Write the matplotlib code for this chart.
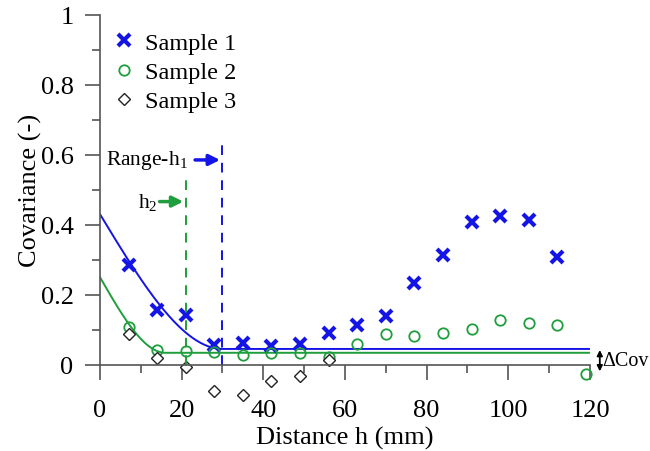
import numpy as np
import matplotlib.pyplot as plt
from matplotlib.ticker import MultipleLocator, FixedLocator

plt.rcParams['font.family'] = ['Liberation Serif', 'DejaVu Serif']
plt.rcParams['mathtext.fontset'] = 'custom'
plt.rcParams['mathtext.rm'] = 'Liberation Serif'
plt.rcParams['mathtext.it'] = 'Liberation Serif:italic'

# Data
lags = [7, 14, 21, 28, 35, 42, 49, 56, 63, 70, 77, 84, 91, 98, 105, 112, 119]
sample1 = [0.285, 0.156, 0.143, 0.055, 0.062, 0.052, 0.058, 0.091, 0.112, 0.138,
           0.232, 0.313, 0.407, 0.425, 0.413, 0.309]
sample2 = [0.108, 0.041, 0.038, 0.036, 0.029, 0.032, 0.033, 0.022, 0.060, 0.089,
           0.081, 0.091, 0.103, 0.127, 0.120, 0.113, -0.026]
sample3 = [0.089, 0.020, -0.007, -0.076, -0.086, -0.048, -0.031, 0.012]

# spherical model fits: value at h=0, plateau, range
blue_fit = (0.43, 0.045, 30.0)
green_fit = (0.25, 0.034, 16.0)
range_h1 = 30
h2 = 21

BLUE = '#1414e6'
GREEN = '#1e9e3c'


def spherical(h, c_at0, plateau, a):
    r = np.clip(h / a, 0, 1)
    return plateau + (c_at0 - plateau) * (1 - 1.5 * r + 0.5 * r ** 3)


fig = plt.figure(figsize=(6.5, 4.52), dpi=100)
ax = fig.add_axes([0.1538, 0.1135, 0.7539, 0.8518])

hh = np.linspace(0, 120, 400)
ax.plot(hh, spherical(hh, *blue_fit), color=BLUE, lw=1.4)
ax.plot(hh, spherical(hh, *green_fit), color=GREEN, lw=1.4)

ax.plot(lags[:len(sample1)], sample1, 'x', color=BLUE, ms=8.5, mew=3, label='Sample 1', clip_on=False)
ax.plot(lags[:len(sample2)], sample2, 'o', color=GREEN, mfc='none', ms=7.5, mew=1.3,
        label='Sample 2', clip_on=False)
ax.plot(lags[:len(sample3)], sample3, 'D', color='#222222', mfc='white', ms=6, mew=1,
        label='Sample 3', clip_on=False)

# range markers
ax.plot([h2, h2], [0, 0.533], '--', color=GREEN, lw=1.4, dashes=(5, 4))
ax.plot([range_h1, range_h1], [0, 0.628], '--', color=BLUE, lw=1.4, dashes=(5, 4))
arrow = dict(arrowstyle='-|>', lw=2.5, mutation_scale=16, shrinkA=0, shrinkB=0)
ax.annotate('', xy=(range_h1 - 0.6, 0.585), xytext=(23.3, 0.585),
            arrowprops=dict(arrow, color=BLUE))
ax.annotate('', xy=(h2 - 0.6, 0.466), xytext=(14.6, 0.466),
            arrowprops=dict(arrow, color=GREEN))
ax.text(21.6, 0.585, r'Range-$\mathrm{h}_1$', ha='right', va='center', fontsize=15.5)
ax.text(14.0, 0.466, r'$\mathrm{h}_2$', ha='right', va='center', fontsize=15.5)

# delta cov marker
ax.annotate('', xy=(122.4, -0.019), xytext=(122.4, 0.042),
            arrowprops=dict(arrowstyle='<|-|>', color='black', lw=1.3, mutation_scale=8,
                            shrinkA=0, shrinkB=0),
            annotation_clip=False)
ax.text(123.1, 0.012, 'ΔCov', ha='left', va='center', fontsize=14.5, clip_on=False)

ax.set_xlim(0, 120)
ax.set_ylim(-0.1, 1.0)
ax.spines['top'].set_visible(False)
ax.spines['right'].set_visible(False)
ax.spines['bottom'].set_position(('data', 0))
ax.spines['left'].set_bounds(0, 1)
for s in ('left', 'bottom'):
    ax.spines[s].set_color('#555555')
    ax.spines[s].set_linewidth(1.2)

ax.xaxis.set_major_locator(MultipleLocator(20))
ax.xaxis.set_minor_locator(MultipleLocator(10))
ax.set_yticks([0, 0.2, 0.4, 0.6, 0.8, 1.0])
ax.set_yticklabels(['0', '0.2', '0.4', '0.6', '0.8', '1'])
ax.yaxis.set_minor_locator(FixedLocator([0.1, 0.3, 0.5, 0.7, 0.9]))
ax.tick_params(which='major', length=11, width=1.2, color='#555555', labelsize=19)
ax.tick_params(which='minor', length=6, width=1.2, color='#555555')
ax.tick_params(axis='x', which='major', pad=14)
ax.tick_params(axis='y', which='major', pad=8)

ax.set_xlabel('Distance h (mm)', fontsize=19)
ax.set_ylabel('Covariance (-)', fontsize=19)
ax.xaxis.set_label_coords(0.5, -0.068)
ax.yaxis.set_label_coords(-0.118, 0.545)

ax.legend(loc='upper left', bbox_to_anchor=(-0.01, 1.0), frameon=False, fontsize=17.5,
          handlelength=1.0, handletextpad=0.35, labelspacing=0.3, borderaxespad=0.3)

fig.savefig('out.png', dpi=100)
